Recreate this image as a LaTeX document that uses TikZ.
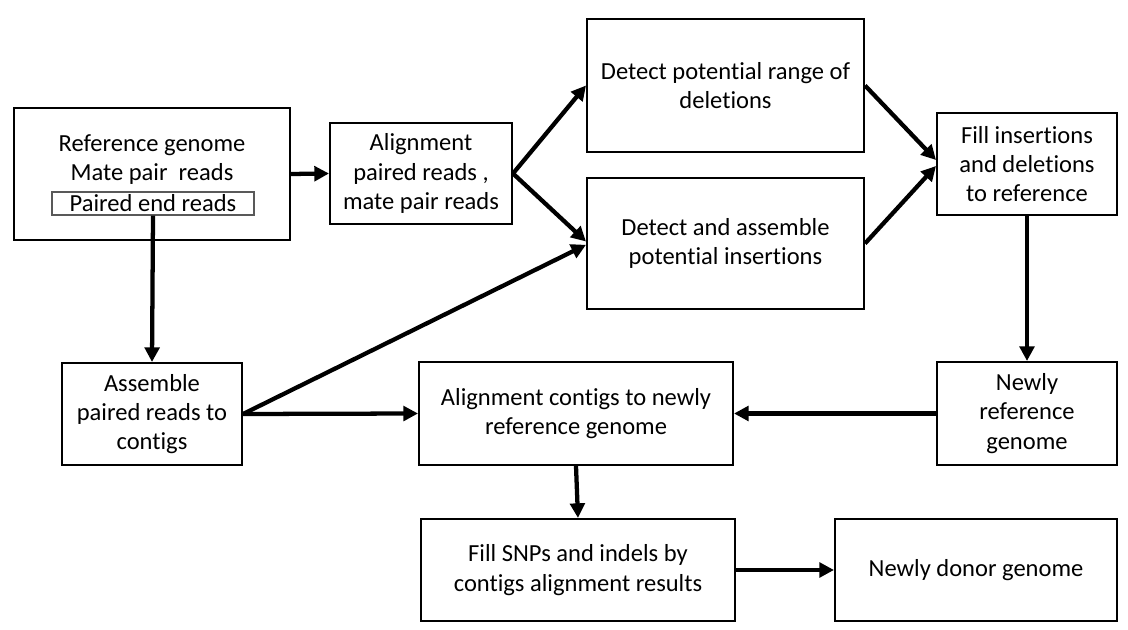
\documentclass[tikz,border=0pt]{standalone}
\usepackage{fontspec}
\setmainfont{Carlito}[Ligatures=NoCommon]
\usetikzlibrary{arrows.meta}
\begin{document}
\begin{tikzpicture}[x=0.75pt,y=-0.75pt,
  box/.style={draw,line width=1.5pt,inner sep=0pt,align=center,font=\fontsize{18.4pt}{22pt}\selectfont},
  txt/.style={inner sep=0pt,align=center,font=\fontsize{18.4pt}{22pt}\selectfont},
  arr/.style={line width=3.2pt,-{Triangle[length=11pt,width=11pt]}}]
\useasboundingbox (0,0) rectangle (1128,630);
\node[box,minimum width=207pt,minimum height=99pt] (ref) at (152,174) {};
\node[txt] (reft) at (152,159.5) {Reference genome\\Mate pair~ reads};
\node[box,draw=black!65,line width=1pt,minimum width=151.5pt,minimum height=17.25pt] (pe) at (153,203.5) {Paired end reads};
\node[box,minimum width=136.5pt,minimum height=75.75pt] (aln) at (421,173.5) {Alignment\\paired reads ,\\mate pair reads};
\node[box,minimum width=207.75pt,minimum height=99.75pt] (del) at (725.5,85.5) {Detect potential range of\\deletions};
\node[box,minimum width=207.75pt,minimum height=98.25pt] (ins) at (725.5,243.5) {Detect and assemble\\potential insertions};
\node[box,minimum width=135pt,minimum height=76.5pt] (fill) at (1027,164) {Fill insertions\\and deletions\\to reference};
\node[box,minimum width=135pt,minimum height=77.25pt] (newref) at (1027,413.5) {Newly\\reference\\genome};
\node[box,minimum width=135pt,minimum height=76.5pt] (asm) at (152,414) {Assemble\\paired reads to\\contigs};
\node[box,minimum width=235.5pt,minimum height=77.25pt] (alc) at (576,413.5) {Alignment contigs to newly\\reference genome};
\node[box,minimum width=235.5pt,minimum height=76.5pt] (snp) at (578,570) {Fill SNPs and indels by\\contigs alignment results};
\node[box,minimum width=211.5pt,minimum height=76.5pt] (donor) at (976,570) {Newly donor genome};
\draw[arr] (ref.east) -- (aln.west);
\draw[arr] (aln.east) -- (del.west);
\draw[arr] (aln.east) -- ([yshift=1.5pt]ins.west);
\draw[arr] (del.east) -- ([yshift=3pt]fill.west);
\draw[arr] (ins.east) -- ([yshift=-1.5pt]fill.west);
\draw[arr] (fill.south) -- (newref.north);
\draw[arr] (newref.west) -- (alc.east);
\draw[arr] (pe.south) -- (asm.north);
\draw[arr] (asm.east) -- (alc.west);
\draw[arr] (asm.east) -- ([yshift=-1pt]ins.west);
\draw[arr] (alc.south) -- (snp.north);
\draw[arr] (snp.east) -- (donor.west);
\end{tikzpicture}
\end{document}
